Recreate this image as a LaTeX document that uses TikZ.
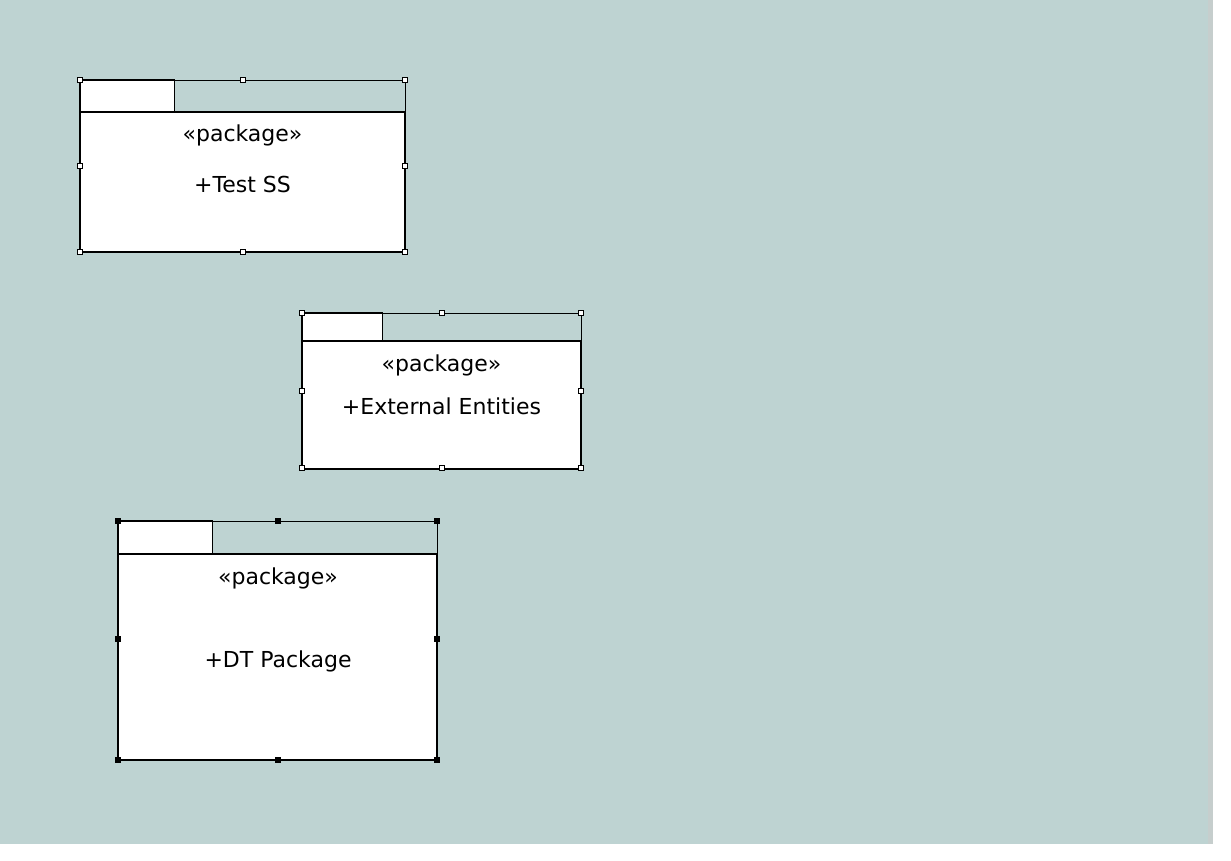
\documentclass[tikz,border=0pt]{standalone}
\usepackage{fontspec}
\setmainfont{DejaVu Sans}
\definecolor{bg}{RGB}{190,211,210}
\definecolor{strip}{RGB}{198,206,205}
\tikzset{
  selbox/.style={draw=black, line width=0.9pt},
  tabbox/.style={draw=black, fill=white, line width=1.6pt, inner sep=0pt, outer sep=0pt, anchor=north west},
  pkgbody/.style={draw=black, fill=white, line width=2pt, inner sep=0pt, outer sep=0pt, anchor=north west},
  lbl/.style={inner sep=0pt, anchor=base, font=\fontsize{22}{26}\selectfont},
  handle/.style={draw=black, fill=white, line width=0.8pt, minimum size=5pt, inner sep=0pt, outer sep=0pt},
  handlesel/.style={handle, fill=black}
}
\begin{document}
\begin{tikzpicture}[x=1pt,y=-1pt]
\useasboundingbox (0,0) rectangle (1231,861);
\fill[white] (0,0) rectangle (1231,861);
\fill[bg] (0,0) rectangle (1213,844);
\fill[strip] (1208,0) rectangle (1213,844);

% Package 1
\draw[selbox] (80,80) rectangle (405,252);
\node[tabbox, minimum width=94.5pt, minimum height=32pt] (t1) at (80,80) {};
\node[pkgbody, minimum width=325pt, minimum height=140pt] (p1) at (80,112) {};
\node[lbl] (s1) at (242.5,141.7) {«package»};
\node[lbl] (n1) at (242.5,192.3) {+Test SS};
\foreach \x/\y [count=\i] in {80/80,242.5/80,405/80,80/166,405/166,80/252,242.5/252,405/252}
  \node[handle] (h1-\i) at (\x,\y) {};

% Package 2
\draw[selbox] (302,313) rectangle (581,468);
\node[tabbox, minimum width=80.5pt, minimum height=27.5pt] (t2) at (302,313) {};
\node[pkgbody, minimum width=279pt, minimum height=128pt] (p2) at (302,340.5) {};
\node[lbl] (s2) at (441.5,371.7) {«package»};
\node[lbl] (n2) at (441.5,414.3) {+External Entities};
\foreach \x/\y [count=\i] in {302/313,441.5/313,581/313,302/390.5,581/390.5,302/468,441.5/468,581/468}
  \node[handle] (h2-\i) at (\x,\y) {};

% Package 3
\draw[selbox] (118,521) rectangle (437,760);
\node[tabbox, minimum width=94.5pt, minimum height=32.5pt] (t3) at (118,521) {};
\node[pkgbody, minimum width=319pt, minimum height=206.5pt] (p3) at (118,553.5) {};
\node[lbl] (s3) at (278,584) {«package»};
\node[lbl] (n3) at (278,667) {+DT Package};
\foreach \x/\y [count=\i] in {118/521,277.5/521,437/521,118/639,437/639,118/760,277.5/760,437/760}
  \node[handlesel] (h3-\i) at (\x,\y) {};
\end{tikzpicture}
\end{document}
